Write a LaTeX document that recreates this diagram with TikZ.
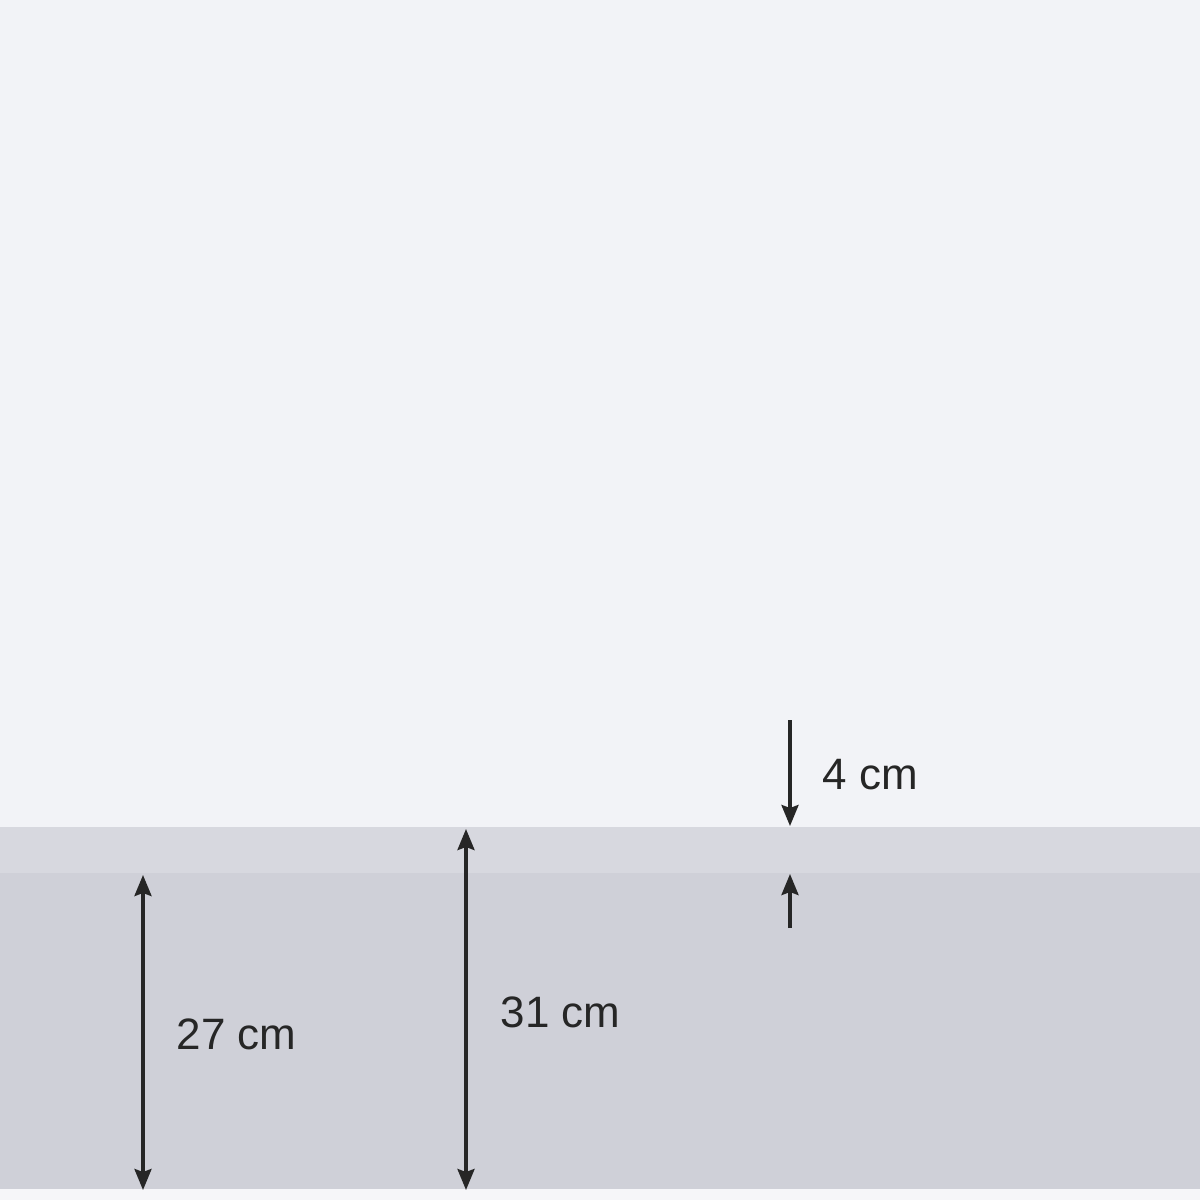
\documentclass[tikz,border=0pt]{standalone}
\usepackage{fontspec}
\setmainfont{Liberation Sans}
\usepackage{xcolor}
\usetikzlibrary{arrows.meta}
\definecolor{sheer}{HTML}{F2F3F7}
\definecolor{hemtop}{HTML}{D7D8DF}
\definecolor{hemlow}{HTML}{CFD0D8}
\definecolor{edgewhite}{HTML}{F6F6F9}
\begin{document}
\begin{tikzpicture}[x=0.01cm,y=-0.01cm,
		dim/.style={line width=0.95pt,black!85},
		tip/.style={-{Stealth[length=0.21cm,width=0.17cm,inset=0.03cm]}},
		tips/.style={{Stealth[length=0.21cm,width=0.17cm,inset=0.03cm]}-{Stealth[length=0.21cm,width=0.17cm,inset=0.03cm]}},
		lbl/.style={font=\fontsize{12.5}{15}\selectfont,text=black!85,inner sep=0pt,anchor=west}]
		\useasboundingbox(0,0)rectangle(1200,1200);
		\fill[sheer](0,0)rectangle(1200,827);
		\fill[hemtop](0,827)rectangle(1200,873);
		\fill[hemlow](0,873)rectangle(1200,1189);
		\fill[edgewhite](0,1189)rectangle(1200,1200);
		% 4 cm
		\coordinate(fourA)at(790,720);
		\coordinate(fourB)at(790,826);
		\coordinate(fourC)at(790,928);
		\coordinate(fourD)at(790,874);
		\draw[dim,tip](fourA)--(fourB);
		\draw[dim,tip](fourC)--(fourD);
		\node[lbl](four)at(822,775){4 cm};
		% 27 cm
		\coordinate(tsA)at(143,875);
		\coordinate(tsB)at(143,1190);
		\draw[dim,tips](tsA)--(tsB);
		\node[lbl](twentyseven)at(176,1034){27 cm};
		% 31 cm
		\coordinate(toA)at(466,829);
		\coordinate(toB)at(466,1190);
		\draw[dim,tips](toA)--(toB);
		\node[lbl](thirtyone)at(500,1012){31 cm};
		\end{tikzpicture}
\end{document}
